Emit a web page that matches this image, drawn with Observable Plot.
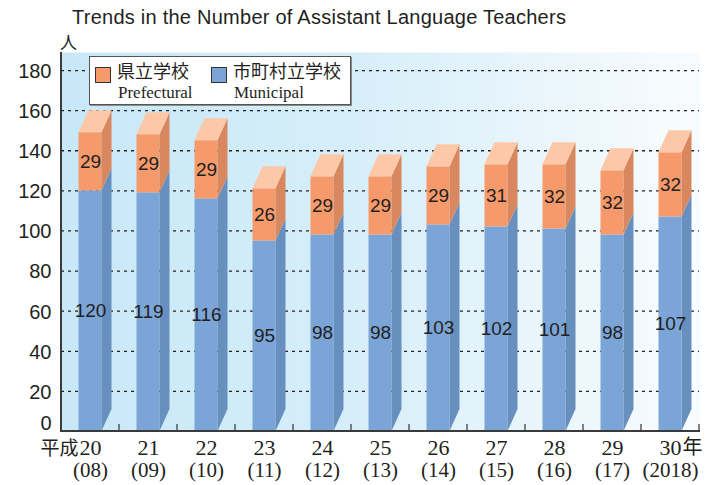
<!DOCTYPE html>
<html>
<head>
<meta charset="utf-8">
<script src="https://cdn.jsdelivr.net/npm/d3@7"></script>
<script src="https://cdn.jsdelivr.net/npm/@observablehq/plot@0.6"></script>
<style>
  html, body { margin: 0; padding: 0; background: #fff; }
  #wrap { position: relative; width: 723px; height: 485px; overflow: hidden; font-family: "Liberation Sans", Arial, sans-serif; color: #231f20; }
  #head { position: relative; height: 32px; }
  #title { position: absolute; left: 72px; top: 6px; font-size: 20px; white-space: nowrap; font-family: "Liberation Sans", sans-serif; letter-spacing: 0.25px; }
  #unit { position: absolute; left: 60px; top: 33px; font-size: 17px; font-family: "Noto Sans CJK JP", sans-serif; line-height: 1; z-index: 3; }
  #legend { position: absolute; left: 89px; top: 56px; width: 260px; height: 47px; background: #fff; border: 1.5px solid #555; box-shadow: 1px 1px 0 #888; z-index: 2; }
  .sw { position: absolute; top: 10px; width: 14px; height: 14px; border: 1px solid #333; }
  .jp { position: absolute; top: 3px; font-family: "Noto Sans CJK JP", sans-serif; font-size: 18px; line-height: 1.2; }
  .en { position: absolute; top: 26px; font-family: "Liberation Serif", serif; font-size: 17px; line-height: 1.2; }
</style>
</head>
<body>
<svg width="0" height="0" style="position:absolute">
  <defs>
    <linearGradient id="bggrad" x1="0" x2="1" y1="0" y2="0">
      <stop offset="0%" stop-color="#c8e8f8"/>
      <stop offset="45%" stop-color="#d6eef9"/>
      <stop offset="100%" stop-color="#f9fcfe"/>
    </linearGradient>
  </defs>
</svg>
<div id="wrap">
  <div id="head"><div id="title">Trends in the Number of Assistant Language Teachers</div></div>
  <div id="unit">人</div>
  <div id="legend"></div>
  <div id="chart"></div>
</div>
<script>
// ---- data ----
const years = ["20", "21", "22", "23", "24", "25", "26", "27", "28", "29", "30"];
const yearSub = ["(08)", "(09)", "(10)", "(11)", "(12)", "(13)", "(14)", "(15)", "(16)", "(17)", "(2018)"];
const municipal = [120, 119, 116, 95, 98, 98, 103, 102, 101, 98, 107];
const prefectural = [29, 29, 29, 26, 29, 29, 29, 31, 32, 32, 32];
const yTicks = [0, 20, 40, 60, 80, 100, 120, 140, 160, 180];
const seriesNames = ["市町村立学校", "県立学校"];
const seriesEn = ["Municipal", "Prefectural"];

// ---- styles ----
const blueFront = "#7ba5d7", blueSide = "#6890be";
const orangeFront = "#f69a6b", orangeSide = "#d8875f", orangeTop = "#fcc8a8";
const ink = "#231f20";
const FW = 23, DX = 10, DY = 22;

const rows = [];
years.forEach((yr, i) => {
  rows.push({year: yr, type: seriesNames[0], value: municipal[i], mid: municipal[i] / 2, label: municipal[i]});
  rows.push({year: yr, type: seriesNames[1], value: prefectural[i], mid: municipal[i] + prefectural[i] / 2, label: prefectural[i]});
});

function extras(index, scales, values, dims) {
  const x = scales.x, y = scales.y;
  const bw = x.bandwidth();
  const g = d3.create("svg:g");
  const poly = (pts, fill) => g.append("polygon").attr("points", pts.map(p => p.join(",")).join(" ")).attr("fill", fill);
  years.forEach((yr, i) => {
    const cx = x(yr) + bw / 2;
    const xr = cx + FW / 2;
    const y0 = y(0), ym = y(municipal[i]), yt = y(municipal[i] + prefectural[i]);
    poly([[xr, y0], [xr + DX, y0 - DY], [xr + DX, ym - DY], [xr, ym]], blueSide);
    poly([[xr, ym], [xr + DX, ym - DY], [xr + DX, yt - DY], [xr, yt]], orangeSide);
    poly([[xr - FW, yt], [xr, yt], [xr + DX, yt - DY], [xr - FW + DX, yt - DY]], orangeTop);
  });
  const left = dims.marginLeft, right = dims.width - dims.marginRight;
  const top = dims.marginTop, base = y(0);
  years.forEach(yr => {
    const bx = x(yr) + x.step();
    g.append("line").attr("x1", bx).attr("x2", bx).attr("y1", base).attr("y2", base - 7).attr("stroke", "#333").attr("stroke-width", 1.2);
  });
  g.append("line").attr("x1", left).attr("x2", right + 1).attr("y1", base).attr("y2", base).attr("stroke", "#3a3a3a").attr("stroke-width", 2);
  g.append("line").attr("x1", left).attr("x2", left).attr("y1", top).attr("y2", base + 1).attr("stroke", "#3a3a3a").attr("stroke-width", 2);
  return g.node();
}

const sansFont = "Liberation Sans, Arial, sans-serif";
const serifFont = "Liberation Serif, Times New Roman, serif";

const chart = Plot.plot({
  width: 723,
  height: 453,
  marginLeft: 61,
  marginRight: 24,
  marginTop: 20,
  marginBottom: 54,
  x: {domain: years, padding: 0, axis: null},
  y: {domain: [0, 189], axis: null},
  color: {domain: seriesNames, range: [blueFront, orangeFront]},
  style: {background: "transparent", overflow: "visible"},
  marks: [
    Plot.frame({fill: "url(#bggrad)", stroke: null}),
    Plot.ruleY(yTicks.filter(d => d > 0), {stroke: "#222", strokeWidth: 1.3, strokeDasharray: "3,4"}),
    Plot.rectY(rows, {x: "year", y: "value", fill: "type", insetLeft: (58 - FW) / 2, insetRight: (58 - FW) / 2}),
    extras,
    Plot.text(rows, {x: "year", y: "mid", text: "label", fontSize: 19, fill: ink, fontFamily: sansFont}),
    Plot.text(yTicks.filter(d => d > 0), {y: d => d, text: d => String(d), frameAnchor: "left", textAnchor: "end", dx: -10, dy: 1, fontSize: 20, fill: ink, fontFamily: sansFont}),
    Plot.text(yTicks.filter(d => d === 0), {y: d => d, text: d => String(d), frameAnchor: "left", textAnchor: "end", dx: -10, dy: -8, fontSize: 20, fill: ink, fontFamily: sansFont}),
    Plot.text(years, {x: d => d, y: () => 0, text: d => d, dy: 16, lineAnchor: "middle", fontSize: 22, fill: ink, fontFamily: serifFont}),
    Plot.text(years.map((d, i) => ({year: d, sub: yearSub[i]})), {x: "year", y: () => 0, text: "sub", dy: 39, lineAnchor: "middle", fontSize: 21, fill: ink, fontFamily: serifFont}),
    Plot.text([years[0]], {x: d => d, y: () => 0, text: () => "平成", dx: -12, dy: 17, textAnchor: "end", lineAnchor: "middle", fontSize: 19, fill: ink, fontFamily: "Noto Sans CJK JP, sans-serif"}),
    Plot.text([years[years.length - 1]], {x: d => d, y: () => 0, text: () => "年", dx: 12, dy: 16, textAnchor: "start", lineAnchor: "middle", fontSize: 20, fill: ink, fontFamily: "Noto Sans CJK JP, sans-serif"})
  ]
});
document.getElementById("chart").appendChild(chart);

// legend
const legend = document.getElementById("legend");
const legendItems = [
  {jp: seriesNames[1], en: seriesEn[1], color: orangeFront, x: 5},
  {jp: seriesNames[0], en: seriesEn[0], color: blueFront, x: 121}
];
legendItems.forEach(it => {
  const sw = document.createElement("div");
  sw.className = "sw"; sw.style.left = it.x + "px"; sw.style.background = it.color;
  legend.appendChild(sw);
  const jp = document.createElement("div");
  jp.className = "jp"; jp.style.left = (it.x + 22) + "px"; jp.textContent = it.jp;
  legend.appendChild(jp);
  const en = document.createElement("div");
  en.className = "en"; en.style.left = (it.x + 23) + "px"; en.textContent = it.en;
  legend.appendChild(en);
});
</script>
</body>
</html>
